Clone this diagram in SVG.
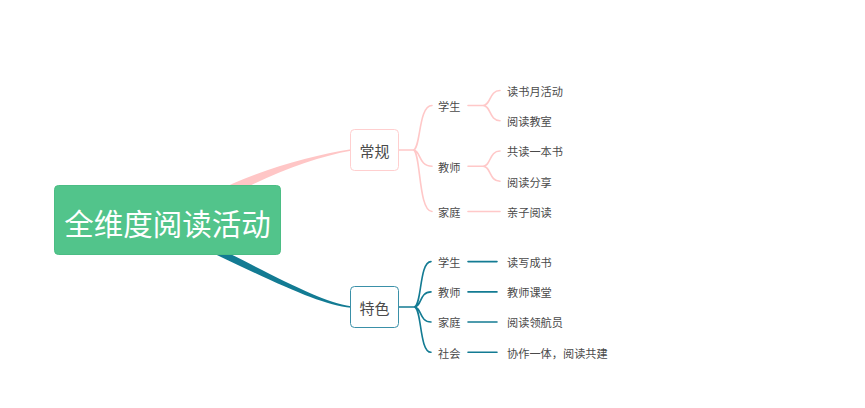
<svg xmlns="http://www.w3.org/2000/svg" width="865" height="408" viewBox="0 0 865 408">
<style>
text{font-family:"Noto Sans CJK SC","Microsoft YaHei","Liberation Sans",sans-serif;dominant-baseline:central;fill:#4a4a4a}
.lbl{font-size:11.2px}
.pk{fill:none;stroke:#ffc8c8;stroke-width:1.6;stroke-linecap:round}
.tl{fill:none;stroke:#137b93;stroke-width:1.6;stroke-linecap:round}
.mid{font-size:15px;text-anchor:middle}
</style>
<rect width="865" height="408" fill="#ffffff"/>
<g id="connectors">
<path d="M212,194 C252,172 311,155.4 351,149.3 L351,150.7 C311,157.5 254,180 212,207 Z" fill="#ffc6c6"/>
<path d="M200,239 C274,275 320,302 351,306.2 L351,307.8 C320,305 274,282 200,247 Z" fill="#137b93"/>
<path class="pk" d="M398,150 L413,150 M413,150 C421,150 418,105.5 432,105.5 M413,150 C421,150 418,166.2 432,166.2 M413,150 C421,150 418,211.5 432,211.5"/>
<path class="pk" d="M468,105.5 L483,105.5 M483,105.5 C491,105.5 489,90.5 500,90.5 M483,105.5 C491,105.5 489,120.7 500,120.7"/>
<path class="pk" d="M468,166.2 L483,166.2 M483,166.2 C491,166.2 489,151 500,151 M483,166.2 C491,166.2 489,181.3 500,181.3"/>
<path class="pk" d="M468,211.5 L500,211.5"/>
<path class="tl" d="M398,307 L414,307 M414,307 C422,307 419,261.6 431,261.6 M414,307 C422,307 419,291.9 431,291.9 M414,307 C422,307 419,322 431,322 M414,307 C422,307 419,352.3 431,352.3"/>
<path class="tl" d="M468,261.6 L497,261.6 M468,291.9 L497,291.9 M468,322 L497,322 M468,352.3 L497,352.3"/>
</g>
<g id="root">
<rect x="54.5" y="185.5" width="226" height="69" rx="4" fill="#52c48b" stroke="#4bbd84"/>
<text x="167.5" y="221.5" style="font-size:29.5px;text-anchor:middle;fill:#ffffff">全维度阅读活动</text>
</g>
<g id="n-changgui">
<rect x="350.5" y="129.5" width="48" height="41" rx="4" fill="#ffffff" stroke="#ffcfcf"/>
<text class="mid" x="374.5" y="150.5">常规</text>
</g>
<g id="n-tese">
<rect x="350.5" y="286.5" width="48" height="41" rx="4" fill="#ffffff" stroke="#3a90a8"/>
<text class="mid" x="374.5" y="307.5">特色</text>
</g>
<g id="cg-xuesheng"><text class="lbl" x="438" y="105.8">学生</text></g>
<g id="cg-jiaoshi"><text class="lbl" x="438" y="166.6">教师</text></g>
<g id="cg-jiating"><text class="lbl" x="438" y="211.9">家庭</text></g>
<g id="cg-1"><text class="lbl" x="507" y="90.8">读书月活动</text></g>
<g id="cg-2"><text class="lbl" x="507" y="121">阅读教室</text></g>
<g id="cg-3"><text class="lbl" x="507" y="151.3">共读一本书</text></g>
<g id="cg-4"><text class="lbl" x="507" y="181.6">阅读分享</text></g>
<g id="cg-5"><text class="lbl" x="507" y="211.9">亲子阅读</text></g>
<g id="ts-xuesheng"><text class="lbl" x="438" y="262">学生</text></g>
<g id="ts-jiaoshi"><text class="lbl" x="438" y="292.3">教师</text></g>
<g id="ts-jiating"><text class="lbl" x="438" y="322.4">家庭</text></g>
<g id="ts-shehui"><text class="lbl" x="438" y="352.7">社会</text></g>
<g id="ts-1"><text class="lbl" x="507" y="262">读写成书</text></g>
<g id="ts-2"><text class="lbl" x="507" y="292.3">教师课堂</text></g>
<g id="ts-3"><text class="lbl" x="507" y="322.4">阅读领航员</text></g>
<g id="ts-4"><text class="lbl" x="507" y="352.7">协作一体，阅读共建</text></g>
</svg>
